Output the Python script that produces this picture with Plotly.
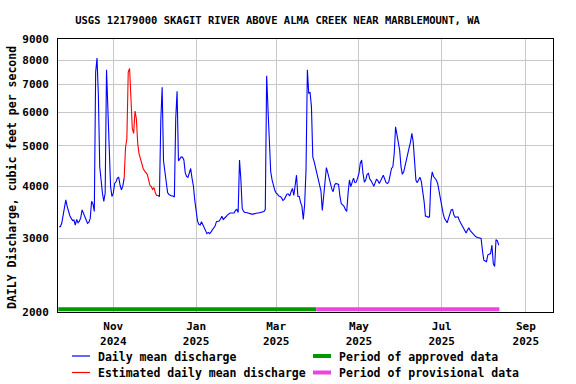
import math
import plotly.graph_objects as go
import pandas as pd

# ---------------- data ----------------
# Daily mean discharge (cfs), first segment, starting 2024-09-22
blue_start_1 = "2024-09-22"
blue_part1 = [
    3200, 3200, 3260, 3420, 3610, 3710, 3580, 3460, 3400, 3350,
    3310, 3320, 3230, 3330, 3270, 3300, 3360, 3510, 3450, 3380,
    3320, 3260, 3280, 3350, 3680, 3630, 3480, 7500, 8100, 6600,
    4450, 4060, 3850, 3680, 3850, 7600, 6000, 4880, 3990, 3780,
    3850, 4060, 4100, 4180, 4200, 4020, 3920, 4000, 4180,
]
# Estimated daily mean discharge, starting 2024-11-09
est_start = "2024-11-09"
estimated = [
    4180, 4950, 5200, 7500, 7650, 6500, 5500, 5350, 6050, 5800,
    5050, 4780, 4640, 4500, 4410, 4350, 4320, 4270, 4150, 4020,
    3990, 3930, 3970, 3850, 3800, 3800,
]
# Daily mean discharge, second segment, starting 2024-12-04
blue_start_2 = "2024-12-04"
blue_part2 = [
    3800, 3780, 5750, 6900, 4600, 4330, 4040,
    3860, 3820, 3800, 3790, 3790, 3770, 5800, 6750, 4600, 4660,
    4700, 4690, 4620, 4310, 4220, 4200, 4310, 4410, 4180, 4010,
    3710, 3450, 3310, 3240, 3230, 3290, 3230, 3190, 3110, 3080,
    3100, 3080, 3110, 3140, 3170, 3210, 3290, 3290, 3300, 3340,
    3390, 3330, 3350, 3380, 3410, 3430, 3450, 3450, 3450, 3450,
    3500, 3520, 3460, 4620, 4150, 3540, 3480, 3460, 3460, 3450,
    3440, 3430, 3430, 3430, 3440, 3450, 3450, 3450, 3460, 3460,
    3470, 3480, 3520, 7350, 6100, 4880, 4330, 4140, 4000, 3910,
    3850, 3830, 3790, 3780, 3750, 3700, 3720, 3790, 3830, 3830,
    3790, 3880, 3950, 3800, 4050, 4250, 3780, 3780, 3660, 3580,
    3330, 3620, 4370, 7600, 6680, 6700, 6200, 4700, 4580, 4430,
    4320, 4200, 4040, 3900, 3500, 3780, 4060, 4430, 4310, 4170,
    4060, 3940, 3880, 4020, 4060, 4050, 4040, 3780, 3630, 3610,
    3580, 3520, 3480, 3850, 4140, 3990, 4120, 4180, 4080, 4090,
    4180, 4290, 4540, 4620, 4290, 4090, 4140, 4270, 4290, 4160,
    4120, 4040, 4000, 4080, 4160, 4120, 4060, 4120, 4180, 4250,
    4160, 4080, 4060, 4100, 4250, 4410, 4450, 4790, 5550, 5300,
    5140, 4880, 4450, 4270, 4330, 4500, 4660, 4790, 4950, 5100,
    5350, 5100, 4550, 4130, 4080, 4150, 4200, 4100, 3920, 3680,
    3390, 3390, 3370, 3380, 4100, 4330, 4220, 4180, 4140, 4060,
    3890, 3680, 3580, 3450, 3350, 3310, 3270, 3350, 3450, 3510,
    3520, 3410, 3370, 3380, 3380, 3310, 3260, 3210, 3160, 3120,
    3090, 3140, 3180, 3130, 3100, 3080, 3040, 3030, 3020, 3010,
    3000, 3000, 2810, 2660, 2650, 2640, 2740, 2750, 2760, 2890,
    2610, 2570, 2980, 2960, 2890,
]

approved_period = ["2024-09-21 12:00", "2025-03-30 12:00"]
provisional_period = ["2025-03-30 12:00", "2025-08-12 12:00"]
period_bar_level = 2030

x_range = ["2024-09-21 06:00", "2025-09-21 00:00"]
y_range = [2000, 9000]
y_ticks = [2000, 3000, 4000, 5000, 6000, 7000, 8000, 9000]
x_tick_dates = ["2024-11-01", "2025-01-01", "2025-03-01", "2025-05-01", "2025-07-01", "2025-09-01"]
x_tick_text = ["Nov<br>2024", "Jan<br>2025", "Mar<br>2025", "May<br>2025", "Jul<br>2025", "Sep<br>2025"]

title_text = "USGS 12179000 SKAGIT RIVER ABOVE ALMA CREEK NEAR MARBLEMOUNT, WA"
y_title = "DAILY Discharge, cubic feet per second"
legend_items = [
    ("Daily mean discharge", "#0000FF", 1.2),
    ("Estimated daily mean discharge", "#FF0000", 1.2),
    ("Period of approved data", "#009900", 4),
    ("Period of provisional data", "#EE44DD", 4),
]

# ---------------- figure ----------------
FONT = "DejaVu Sans Mono"
d1 = pd.date_range(blue_start_1, periods=len(blue_part1), freq="D")
d2 = pd.date_range(blue_start_2, periods=len(blue_part2), freq="D")
de = pd.date_range(est_start, periods=len(estimated), freq="D")

bx = list(d1) + [None] + list(d2)
by = blue_part1 + [None] + blue_part2

fig = go.Figure()
fig.add_trace(go.Scatter(x=approved_period, y=[period_bar_level] * 2, mode="lines",
                         line=dict(color="#009900", width=4), hoverinfo="skip"))
fig.add_trace(go.Scatter(x=provisional_period, y=[period_bar_level] * 2, mode="lines",
                         line=dict(color="#EE44DD", width=4), hoverinfo="skip"))
fig.add_trace(go.Scatter(x=bx, y=by, mode="lines", connectgaps=False,
                         line=dict(color="#0000FF", width=1.1)))
fig.add_trace(go.Scatter(x=de, y=estimated, mode="lines",
                         line=dict(color="#FF0000", width=1.1)))

L, R, T, B = 58, 553, 39, 312
W, H = 576, 384
pw, ph = R - L, B - T

def px(x):
    return (x - L) / pw

def py(y):
    return (B - y) / ph

# manual legend
rows = [356, 372.5]
cols = [(72, 90, 96), (313, 331, 337)]
order = [(0, 0, 0), (1, 1, 0), (2, 0, 1), (3, 1, 1)]
for idx, r, c in order:
    label, color, w = legend_items[idx]
    x0, x1, xt = cols[c]
    yy = rows[r]
    fig.add_shape(type="line", xref="paper", yref="paper",
                  x0=px(x0), x1=px(x1), y0=py(yy), y1=py(yy),
                  line=dict(color=color, width=w))
    fig.add_annotation(xref="paper", yref="paper", x=px(xt), y=py(yy + 0.5),
                       text=label, showarrow=False, xanchor="left", yanchor="middle",
                       font=dict(family=FONT, size=11.5, color="black", weight="bold"))

fig.add_annotation(xref="paper", yref="paper", x=px(12), y=py(178),
                   text=y_title, textangle=-90, showarrow=False,
                   xanchor="center", yanchor="middle",
                   font=dict(family=FONT, size=11.5, color="black", weight="bold"))

fig.update_layout(
    width=W, height=H,
    margin=dict(l=L, r=W - R, t=T, b=H - B),
    paper_bgcolor="white", plot_bgcolor="white",
    showlegend=False,
    title=dict(text=title_text, x=277.5 / W, xanchor="center",
               y=1 - 20.5 / H, yanchor="middle",
               font=dict(family=FONT, size=10.5, color="black", weight="bold")),
)
fig.update_xaxes(
    type="date", range=x_range,
    tickvals=x_tick_dates, ticktext=x_tick_text,
    showgrid=True, gridcolor="#C8C8C8", gridwidth=1,
    showline=True, linecolor="black", linewidth=1, mirror=True,
    ticks="", zeroline=False, ticklabelstandoff=4,
    tickfont=dict(family=FONT, size=11, color="black", weight="bold"),
)
fig.update_yaxes(
    type="log", range=[math.log10(y_range[0]), math.log10(y_range[1])],
    tickvals=y_ticks, ticktext=[str(v) for v in y_ticks],
    showgrid=True, gridcolor="#C8C8C8", gridwidth=1,
    showline=True, linecolor="black", linewidth=1, mirror=True,
    ticks="", zeroline=False, ticklabelstandoff=6,
    tickfont=dict(family=FONT, size=11, color="black", weight="bold"),
)

fig.write_html("out.html", config={"displayModeBar": False},
               post_script="document.body.style.margin='0';document.body.style.padding='0';")
